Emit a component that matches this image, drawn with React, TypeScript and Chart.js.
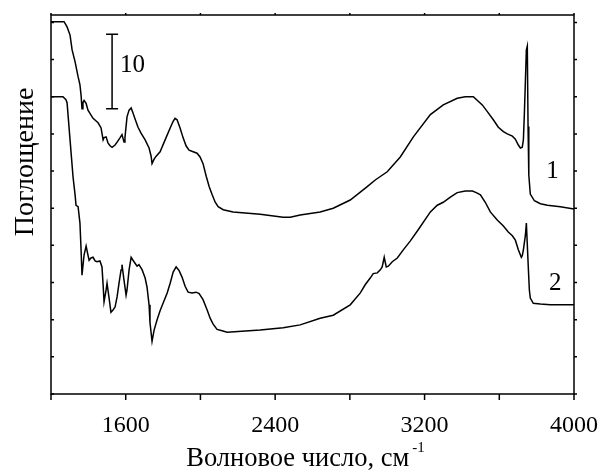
import React, { useEffect, useRef } from "react";
import { Chart, registerables } from "chart.js";

Chart.register(...registerables);

// Wavenumber (cm^-1) and absorbance values, curve 1
const wave1 = [1200, 1270, 1286, 1302, 1313, 1329, 1345, 1355, 1361, 1366, 1371, 1377, 1388, 1398, 1425, 1452, 1468, 1479, 1484, 1495, 1505, 1516, 1527, 1543, 1554, 1570, 1580, 1591, 1596, 1607, 1618, 1629, 1639, 1650, 1666, 1682, 1704, 1725, 1736, 1741, 1752, 1763, 1784, 1811, 1838, 1854, 1864, 1875, 1891, 1907, 1923, 1939, 1961, 1982, 1998, 2014, 2031, 2047, 2063, 2079, 2095, 2122, 2175, 2320, 2443, 2481, 2534, 2641, 2711, 2802, 2893, 2936, 3000, 3070, 3140, 3231, 3300, 3375, 3418, 3461, 3509, 3536, 3568, 3595, 3622, 3643, 3670, 3686, 3702, 3713, 3723, 3729, 3734, 3740, 3745, 3750, 3754, 3758, 3766, 3788, 3820, 3858, 3927, 4000];
const abs1 = [50.1, 50.1, 49.4, 48.3, 46.3, 44.7, 42.7, 41.6, 40.2, 38.4, 39.2, 39.5, 39.1, 38.2, 37.1, 36.5, 35.8, 34.2, 34.5, 34.6, 33.8, 33.4, 33.2, 33.5, 33.9, 34.5, 34.9, 33.9, 34.5, 37.3, 38.2, 38.5, 37.8, 37.0, 35.9, 35.1, 34.2, 33.1, 32.0, 31.0, 31.6, 32.0, 32.6, 34.2, 35.8, 36.7, 37.1, 36.9, 35.8, 34.5, 33.4, 32.8, 32.6, 32.4, 31.9, 31.0, 29.3, 27.9, 26.8, 25.8, 25.2, 24.8, 24.5, 24.2, 23.8, 23.8, 24.1, 24.5, 25.0, 26.1, 27.9, 28.8, 29.9, 31.9, 34.6, 37.6, 38.9, 39.8, 40.0, 40.0, 38.9, 38.0, 36.9, 35.9, 35.3, 35.0, 34.7, 34.3, 33.5, 33.1, 33.2, 34.2, 37.5, 42.3, 46.3, 46.8, 36.0, 29.5, 26.9, 26.0, 25.6, 25.4, 25.2, 24.9];

// Curve 2
const wave2 = [1200, 1264, 1280, 1286, 1302, 1318, 1329, 1334, 1345, 1355, 1361, 1366, 1377, 1388, 1398, 1404, 1414, 1425, 1436, 1446, 1462, 1473, 1479, 1484, 1495, 1500, 1511, 1521, 1532, 1543, 1554, 1564, 1575, 1580, 1591, 1602, 1607, 1618, 1629, 1639, 1650, 1661, 1671, 1688, 1704, 1714, 1725, 1730, 1741, 1752, 1768, 1784, 1800, 1822, 1838, 1854, 1870, 1886, 1902, 1918, 1934, 1955, 1977, 1993, 2014, 2036, 2052, 2068, 2089, 2116, 2143, 2320, 2443, 2534, 2641, 2711, 2802, 2856, 2882, 2909, 2925, 2947, 2963, 2973, 2979, 2984, 2989, 2995, 3006, 3027, 3054, 3086, 3124, 3166, 3231, 3268, 3300, 3338, 3375, 3418, 3456, 3477, 3499, 3525, 3552, 3589, 3622, 3648, 3670, 3686, 3702, 3718, 3723, 3729, 3740, 3745, 3750, 3756, 3761, 3766, 3782, 3820, 3873, 4000];
const abs2 = [40.0, 40.0, 39.6, 39.2, 34.2, 29.2, 26.8, 25.4, 25.2, 23.0, 19.4, 16.0, 18.7, 19.9, 18.7, 18.0, 18.3, 18.4, 17.9, 17.8, 17.9, 17.1, 14.7, 12.4, 14.0, 14.9, 12.9, 11.0, 11.3, 11.7, 13.1, 14.9, 16.7, 17.4, 15.3, 13.3, 14.0, 16.7, 18.4, 18.0, 17.6, 17.2, 17.4, 16.7, 15.6, 14.4, 12.0, 9.6, 7.1, 8.6, 10.0, 11.2, 12.2, 13.6, 14.9, 16.4, 17.1, 16.6, 15.7, 14.5, 13.7, 13.6, 13.7, 13.5, 12.7, 11.3, 10.2, 9.4, 8.7, 8.5, 8.3, 8.6, 8.9, 9.3, 10.2, 10.6, 12.0, 13.6, 14.7, 15.6, 16.2, 16.3, 16.7, 17.1, 17.8, 18.4, 17.8, 17.1, 17.2, 17.8, 18.3, 19.4, 20.6, 22.1, 24.5, 25.4, 25.8, 26.5, 27.1, 27.3, 27.3, 27.1, 26.8, 25.8, 24.5, 23.4, 22.6, 21.8, 21.3, 20.7, 19.4, 18.4, 18.6, 19.4, 21.4, 23.0, 20.1, 16.7, 14.0, 12.9, 12.2, 12.1, 12.0, 12.0];

// Axis ticks
const xTicks = [1200, 1600, 2000, 2400, 2800, 3200, 3600, 4000];
const xLabeled = [1600, 2400, 3200, 4000];
const yTicks = [0, 5, 10, 15, 20, 25, 30, 35, 40, 45, 50];

// Annotations
const curveLabels = ["1", "2"];
const curveLabelX = [3885, 3900];
const curveLabelY = [29.9, 14.9];
const scaleBarX = 1527;
const scaleBarLow = 38.4;
const scaleBarHigh = 48.4;
const scaleBarText = "10";
const xTitle = "Волновое число, см";
const xTitleSup = "-1";
const yTitle = "Поглощение";

const FONT = "'Liberation Serif', 'Times New Roman', serif";

const framePlugin = {
  id: "frame",
  afterDraw(chart: any) {
    const { ctx, chartArea: a, scales } = chart;
    const x = scales.x;
    const y = scales.y;
    ctx.save();
    ctx.strokeStyle = "#000";
    ctx.fillStyle = "#000";
    ctx.lineWidth = 1.5;
    ctx.strokeRect(a.left, a.top, a.right - a.left, a.bottom - a.top);
    ctx.beginPath();
    for (const v of xTicks) {
      const px = x.getPixelForValue(v);
      ctx.moveTo(px, a.bottom);
      ctx.lineTo(px, a.bottom + 6);
      ctx.moveTo(px, a.top);
      ctx.lineTo(px, a.top - 2);
    }
    for (const v of yTicks) {
      const py = y.getPixelForValue(v);
      ctx.moveTo(a.left, py);
      ctx.lineTo(a.left + 3, py);
      ctx.moveTo(a.right, py);
      ctx.lineTo(a.right + 3, py);
    }
    ctx.stroke();

    // scale bar
    const bx = x.getPixelForValue(scaleBarX);
    const b1 = y.getPixelForValue(scaleBarLow);
    const b2 = y.getPixelForValue(scaleBarHigh);
    ctx.beginPath();
    ctx.lineWidth = 1.5;
    ctx.moveTo(bx, b1);
    ctx.lineTo(bx, b2);
    ctx.moveTo(bx - 6, b1);
    ctx.lineTo(bx + 6, b1);
    ctx.moveTo(bx - 6, b2);
    ctx.lineTo(bx + 6, b2);
    ctx.stroke();
    ctx.font = `25px ${FONT}`;
    ctx.textAlign = "left";
    ctx.textBaseline = "middle";
    ctx.fillText(scaleBarText, bx + 8, (b1 + b2) / 2 - 6);

    // curve labels
    ctx.textAlign = "center";
    curveLabels.forEach((t, i) => {
      ctx.fillText(t, x.getPixelForValue(curveLabelX[i]), y.getPixelForValue(curveLabelY[i]));
    });

    // x title with superscript
    ctx.textBaseline = "alphabetic";
    ctx.textAlign = "left";
    ctx.font = `26.5px ${FONT}`;
    const w = ctx.measureText(xTitle).width;
    ctx.font = `15px ${FONT}`;
    const ws = ctx.measureText(xTitleSup).width;
    const cx = (a.left + a.right) / 2 - 7;
    const start = cx - (w + ws + 3) / 2;
    ctx.font = `26.5px ${FONT}`;
    ctx.fillText(xTitle, start, 466);
    ctx.font = `15px ${FONT}`;
    ctx.fillText(xTitleSup, start + w + 3, 452);

    // y title
    ctx.save();
    ctx.translate(33, 162);
    ctx.rotate(-Math.PI / 2);
    ctx.font = `28px ${FONT}`;
    ctx.textAlign = "center";
    ctx.fillText(yTitle, 0, 0);
    ctx.restore();

    ctx.restore();
  },
};

export default function App() {
  const ref = useRef<HTMLCanvasElement>(null);
  useEffect(() => {
    if (!ref.current) return;
    const mk = (xs: number[], ys: number[]) => xs.map((v, i) => ({ x: v, y: ys[i] }));
    const chart = new Chart(ref.current, {
      type: "line",
      data: {
        datasets: [
          { data: mk(wave1, abs1), borderColor: "#000", borderWidth: 1.5, pointRadius: 0, tension: 0, fill: false },
          { data: mk(wave2, abs2), borderColor: "#000", borderWidth: 1.5, pointRadius: 0, tension: 0, fill: false },
        ],
      },
      options: {
        responsive: false,
        animation: false,
        events: [],
        layout: { padding: { top: 15, right: 26, left: 0, bottom: 0 } },
        plugins: { legend: { display: false }, tooltip: { enabled: false } },
        scales: {
          x: {
            type: "linear",
            min: 1200,
            max: 4000,
            grid: { display: false, drawTicks: false },
            border: { display: false },
            afterBuildTicks: (s: any) => {
              s.ticks = xTicks.map((v) => ({ value: v }));
            },
            ticks: {
              autoSkip: false,
              maxRotation: 0,
              padding: 17,
              color: "#000",
              font: { family: FONT, size: 24 },
              callback: (v: any) => (xLabeled.includes(Number(v)) ? String(v) : ""),
            },
            afterFit: (s: any) => {
              s.height = 76;
              s.paddingLeft = 0;
              s.paddingRight = 0;
            },
          },
          y: {
            type: "linear",
            min: 0,
            max: 51,
            grid: { display: false, drawTicks: false },
            border: { display: false },
            ticks: { display: false },
            afterFit: (s: any) => {
              s.width = 51;
              s.paddingTop = 0;
              s.paddingBottom = 0;
            },
          },
        },
      },
      plugins: [framePlugin],
    });
    return () => chart.destroy();
  }, []);
  return (
    <div style={{ position: "fixed", left: 0, top: 0, width: 600, height: 470, background: "#fff" }}>
      <canvas ref={ref} width={600} height={470} />
    </div>
  );
}
